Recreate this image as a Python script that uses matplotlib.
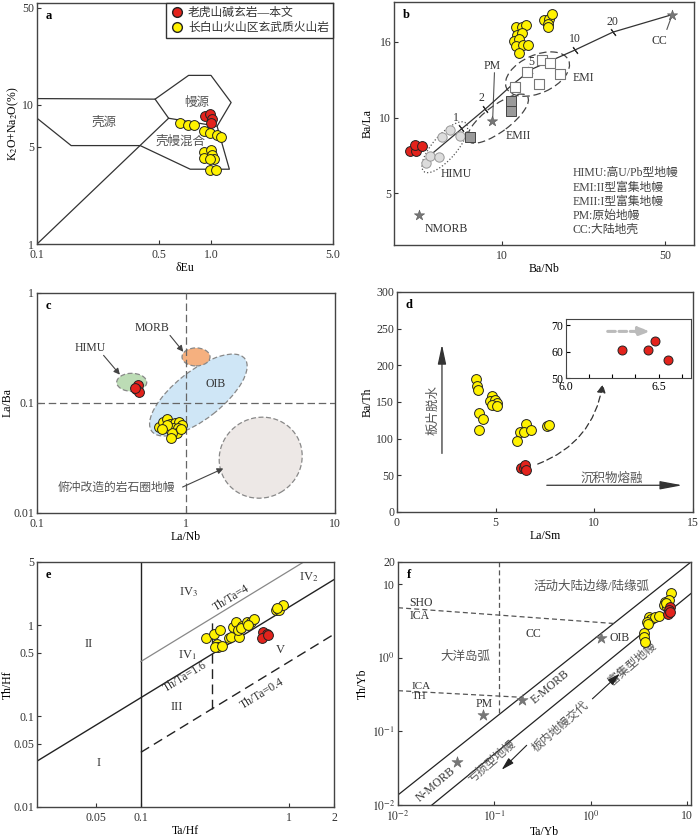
import numpy as np
import matplotlib
matplotlib.use('Agg')
import matplotlib.pyplot as plt
from matplotlib.patches import Ellipse, FancyArrowPatch
from matplotlib.transforms import ScaledTranslation
from matplotlib.lines import Line2D

plt.rcParams['font.family'] = ['Liberation Serif', 'Noto Sans CJK SC']
plt.rcParams['mathtext.fontset'] = 'stix'
plt.rcParams['font.size'] = 8.5
plt.rcParams['xtick.direction'] = 'in'
plt.rcParams['ytick.direction'] = 'in'

RED = '#e3231c'
YEL = '#fff200'
TXT = '#333333'

# ---- a: dEu vs K2O+Na2O ----
a_red_eu = [0.924, 0.978, 1.01, 0.99]
a_red_alk = [8.37, 8.57, 7.89, 7.46]
a_yel_eu = [0.658, 0.731, 0.791, 0.904, 0.986, 1.078, 1.137, 0.912, 0.996,
            0.912, 1.01, 1.03, 0.986, 0.978, 1.07]
a_yel_alk = [7.38, 7.22, 7.22, 6.53, 6.26, 6.11, 5.92, 4.61, 4.75,
             4.14, 4.37, 4.07, 4.07, 3.41, 3.41]
a_outline_x = [0.1, 0.476, 0.741, 0.996, 1.30, 1.08, 1.27, 0.757, 0.391, 0.157, 0.1]
a_outline_y = [11.1, 11.0, 16.3, 16.3, 10.4, 7.03, 3.45, 3.45, 5.10, 5.10, 8.02]
a_split_x = [0.476, 0.569, 1.08]
a_split_y = [11.0, 8.02, 7.03]
a_diag_x = [0.1, 0.569]
a_diag_y = [1.0, 8.02]

# ---- b: Ba/Nb vs Ba/La ----
b_red_x = [4.04, 4.29, 4.22, 4.55]
b_red_y = [7.35, 7.35, 7.79, 7.74]
b_yel_x = [11.5, 12.2, 12.7, 11.6, 12.2, 11.3, 11.8, 11.45, 12.3, 12.9, 11.8,
           15.1, 15.85, 16.4, 15.7, 15.7]
b_yel_y = [17.6, 17.6, 17.8, 16.7, 16.9, 16.1, 16.25, 15.6, 15.65, 15.65, 14.9,
           18.3, 18.5, 19.0, 17.9, 17.5]
b_himu_x = [4.74, 4.93, 5.37, 5.50, 5.97, 6.58]
b_himu_y = [6.61, 7.06, 6.96, 8.40, 8.94, 8.48]
b_emii_x = [7.31, 10.9, 10.96]
b_emii_y = [8.40, 11.1, 10.44]
b_emi_x = [11.4, 12.8, 14.4, 14.8, 16.0, 17.7]
b_emi_y = [12.1, 13.3, 12.3, 14.3, 14.05, 13.1]
b_star_x = [4.40, 9.10, 53.8]
b_star_y = [4.08, 9.73, 18.96]
b_curve_x = [4.90, 8.71, 10.96, 13.4, 20.5, 29.9, 53.8]
b_curve_y = [7.06, 10.7, 12.2, 13.5, 15.2, 17.0, 18.96]
b_mix_labels = ['1', '2', '5', '10', '20']
b_mix_x = [6.70, 8.43, 13.15, 20.5, 29.9]
b_mix_y = [9.1, 10.55, 13.4, 15.2, 17.0]
b_mixlab_x = [6.33, 8.20, 13.4, 20.5, 29.9]
b_mixlab_y = [10.0, 11.3, 14.1, 16.3, 18.1]
b_key = ['HIMU:高U/Pb型地幔', 'EMI:II型富集地幔', 'EMII:I型富集地幔',
         'PM:原始地幔', 'CC:大陆地壳']

# ---- c: La/Nb vs La/Ba ----
c_red_x = [0.474, 0.462, 0.486, 0.455]
c_red_y = [0.146, 0.133, 0.127, 0.136]
c_yel_x = [0.662, 0.704, 0.749, 0.781, 0.844, 0.902, 0.936, 0.761, 0.822,
           0.888, 0.866, 0.802, 0.789, 0.742, 0.687, 0.921]
c_yel_y = [0.0609, 0.0676, 0.0711, 0.0644, 0.0662, 0.0676, 0.0631, 0.0589,
           0.0589, 0.0589, 0.0531, 0.0531, 0.0478, 0.0631, 0.0577, 0.0577]

# ---- d: La/Sm vs Ba/Th ----
d_yel_x = [4.01, 4.05, 4.13, 4.80, 4.72, 4.97, 5.09, 4.80, 5.06, 4.18, 4.38,
           4.18, 6.54, 6.24, 6.44, 6.78, 6.10, 7.62, 7.70]
d_yel_y = [181.4, 171.4, 166.8, 157.7, 150.9, 153.2, 148.6, 146.4, 145.0,
           135.0, 126.8, 112.3, 120.0, 108.6, 108.6, 111.4, 97.3, 116.8, 118.6]
d_red_x = [6.30, 6.44, 6.48, 6.55]
d_red_y = [60.5, 60.5, 64.2, 57.0]

# ---- e: Ta/Hf vs Th/Hf ----
e_yel_x = [0.274, 0.313, 0.341, 0.324, 0.333, 0.316, 0.351, 0.395, 0.405,
           0.460, 0.416, 0.438, 0.478, 0.454, 0.471, 0.516, 0.550, 0.582,
           0.530, 0.813, 0.857, 0.912, 0.832]
e_yel_y = [0.722, 0.800, 0.885, 0.625, 0.583, 0.575, 0.594, 0.733, 0.752,
           0.752, 0.955, 1.084, 0.986, 0.891, 0.931, 1.101, 1.101, 1.18,
           1.01, 1.48, 1.48, 1.67, 1.55]
e_red_x = [0.668, 0.705, 0.652, 0.716]
e_red_y = [0.853, 0.805, 0.733, 0.791]

# ---- f: Ta/Yb vs Th/Yb ----
f_yel_x = [6.82, 5.96, 5.73, 6.20, 6.45, 4.0, 4.23, 4.69, 5.08, 3.85, 3.91,
           3.55, 3.60, 3.69, 6.10]
f_yel_y = [7.47, 5.75, 5.19, 4.92, 6.07, 3.60, 3.31, 3.60, 3.68, 3.08, 2.86,
           2.14, 1.89, 1.65, 5.58]
f_red_x = [6.71, 6.45, 6.30, 6.71]
f_red_y = [4.92, 4.40, 3.95, 4.17]
f_star_x = [0.0762, 0.194, 1.28, 0.0409]
f_star_y = [0.167, 0.266, 1.87, 0.0387]


def dots(ax, x, y, color, s=50, z=6):
    ax.scatter(x, y, s=s, c=color, edgecolors='#222222', linewidths=0.7, zorder=z)


def blob(fig, ax, x, y, w, h, ang, **kw):
    # ellipse sized in pixels, centred on a data point
    tr = fig.dpi_scale_trans + ScaledTranslation(x, y, ax.transData)
    ax.add_patch(Ellipse((0, 0), w / 100, h / 100, angle=ang, transform=tr, **kw))


def style(ax, letter):
    for s in ax.spines.values():
        s.set_color('#444444')
        s.set_linewidth(1.0)
    ax.tick_params(length=3, width=0.8, colors='#333333', labelsize=8.5, pad=2)
    ax.tick_params(axis='x', pad=3.5)
    ax.text(0.03, 0.97, letter, transform=ax.transAxes, fontweight='bold',
            fontsize=9, va='top', ha='left')


def panel_a(fig):
    ax = fig.add_axes([0.0529, 0.7081, 0.4229, 0.2883])
    ax.set_xscale('log')
    ax.set_yscale('log')
    ax.set_xlim(0.1, 5)
    ax.set_ylim(1, 54)
    for xs, ys in [(a_outline_x, a_outline_y), (a_split_x, a_split_y), (a_diag_x, a_diag_y)]:
        ax.plot(xs, ys, color='#333333', lw=0.9)
    ax.text(0.243, 7.5, '壳源', ha='center', va='center', color='#555555', fontsize=9)
    ax.text(0.828, 10.4, '幔源', ha='center', va='center', color='#555555', fontsize=9)
    ax.text(0.664, 5.45, '壳幔混合', ha='center', va='center', color='#555555', fontsize=9)
    dots(ax, a_yel_eu, a_yel_alk, YEL)
    dots(ax, a_red_eu, a_red_alk, RED)
    ax.minorticks_off()
    ax.set_xticks([0.1, 0.5, 1.0, 5.0], ['0.1', '0.5', '1.0', '5.0'])
    ax.set_yticks([1, 5, 10, 50], ['1', '5', '10', '50'])
    ax.set_xlabel('δEu', labelpad=1)
    ax.set_ylabel('K$_2$O+Na$_2$O(%)', labelpad=1)
    handles = [Line2D([], [], marker='o', ls='', mfc=RED, mec='#222222', ms=7,
                      label='老虎山碱玄岩—本文'),
               Line2D([], [], marker='o', ls='', mfc=YEL, mec='#222222', ms=7,
                      label='长白山火山区玄武质火山岩')]
    leg = ax.legend(handles=handles, loc='upper right', frameon=True, fancybox=False,
                    edgecolor='#333333', borderaxespad=0, handletextpad=0.3,
                    borderpad=0.35, labelspacing=0.25, fontsize=8.5, framealpha=1,
                    handlelength=1.2)
    for t in leg.get_texts():
        t.set_color(TXT)
    style(ax, 'a')


def b_fwd(v):
    v = np.maximum(np.asarray(v, dtype=float), 1e-6)
    return np.where(v <= 10, np.log2(v / 5), 1 + np.log(v / 10) / np.log(1.6))


def b_inv(t):
    t = np.asarray(t, dtype=float)
    return np.where(t <= 1, 5 * 2.0 ** t, 10 * 1.6 ** (t - 1))


def panel_b(fig):
    ax = fig.add_axes([0.5629, 0.7069, 0.4286, 0.2907])
    ax.set_xscale('log')
    ax.set_yscale('function', functions=(b_fwd, b_inv))
    ax.set_xlim(3.44, 66.7)
    ax.set_ylim(3.11, 20.5)
    blob(fig, ax, 5.68, 7.62, 64, 24, 49, fill=False, ec='#555555', ls=':', lw=0.9)
    blob(fig, ax, 9.6, 9.9, 74, 26, 37, fill=False, ec='#444444', ls=(0, (6, 3)), lw=0.9)
    blob(fig, ax, 14.2, 13.1, 68, 38, 24, fill=False, ec='#444444', ls=(0, (6, 3)), lw=0.9)
    ax.plot(b_curve_x, b_curve_y, color='#333333', lw=0.9, zorder=3)
    for xv, yv in zip(b_mix_x, b_mix_y):
        ax.plot(xv, yv, marker=(2, 2, 35), ms=6, mew=0.8, color='#333333', zorder=3)
    for lab, xv, yv in zip(b_mix_labels, b_mixlab_x, b_mixlab_y):
        ax.text(xv, yv, lab, ha='center', va='center', fontsize=8.5, color=TXT)
    ax.scatter(b_himu_x, b_himu_y, s=45, c='#dcdcdc', edgecolors='#999999', linewidths=0.7, zorder=4)
    ax.scatter(b_emii_x, b_emii_y, s=50, marker='s', c='#9a9a9a', edgecolors='#444444', linewidths=0.7, zorder=4)
    ax.scatter(b_emi_x, b_emi_y, s=50, marker='s', c='white', edgecolors='#777777', linewidths=0.8, zorder=4)
    ax.scatter(b_star_x, b_star_y, s=60, marker='*', c='#777777', edgecolors='#555555', linewidths=0.4, zorder=4)
    # PM and CC leaders
    ax.plot([9.28, 9.12], [13.2, 9.9], color='#555555', lw=0.8)
    ax.plot([51.0, 53.5], [17.3, 18.8], color='#555555', lw=0.8)
    ax.text(9.10, 13.8, 'PM', ha='center', va='center', color=TXT)
    ax.text(47.5, 16.1, 'CC', ha='center', va='center', color=TXT)
    ax.text(6.33, 5.97, 'HIMU', ha='center', va='center', color=TXT)
    ax.text(11.7, 8.48, 'EMII', ha='center', va='center', color=TXT)
    ax.text(22.3, 12.8, 'EMI', ha='center', va='center', color=TXT)
    ax.text(5.77, 3.61, 'NMORB', ha='center', va='center', color=TXT)
    dots(ax, b_yel_x, b_yel_y, YEL)
    dots(ax, b_red_x, b_red_y, RED)
    for i, line in enumerate(b_key):
        ax.text(0.595, 0.295 - i * 0.0585, line, transform=ax.transAxes, ha='left',
                va='center', fontsize=8.5, color='#444444')
    ax.minorticks_off()
    ax.set_xticks([10, 50], ['10', '50'])
    ax.set_yticks([5, 10, 16], ['5', '10', '16'])
    ax.set_xlabel('Ba/Nb', labelpad=1)
    ax.set_ylabel('Ba/La', labelpad=4)
    style(ax, 'b')


def panel_c(fig):
    ax = fig.add_axes([0.0529, 0.3864, 0.4257, 0.2632])
    ax.set_xscale('log')
    ax.set_yscale('log')
    ax.set_xlim(0.1, 10)
    ax.set_ylim(0.01, 1)
    ek = dict(ec='#888888', ls=(0, (4, 2)), lw=0.9)
    blob(fig, ax, 1.21, 0.118, 118, 48, 38, fc='#cfe6f6', zorder=1, **ek)
    blob(fig, ax, 0.432, 0.154, 30, 18, 0, fc='#bcdcb5', zorder=1, **ek)
    blob(fig, ax, 1.167, 0.262, 28, 18, 0, fc='#f5b07f', zorder=2, **ek)
    blob(fig, ax, 3.17, 0.0318, 84, 80, 30, fc='#ede8e6', zorder=1, **ek)
    ax.axvline(1, color='#666666', ls=(0, (6, 3)), lw=0.9, zorder=3)
    ax.axhline(0.1, color='#666666', ls=(0, (6, 3)), lw=0.9, zorder=3)
    ap = dict(arrowstyle='-|>', color='#444444', lw=0.8, mutation_scale=9)
    ax.annotate('', xy=(0.985, 0.279), xytext=(0.760, 0.430), arrowprops=ap)
    ax.annotate('', xy=(0.370, 0.173), xytext=(0.272, 0.283), arrowprops=ap)
    ax.annotate('', xy=(1.85, 0.026), xytext=(0.912, 0.0168), arrowprops=ap)
    ax.text(0.589, 0.484, 'MORB', ha='center', va='center', color=TXT)
    ax.text(0.227, 0.314, 'HIMU', ha='center', va='center', color=TXT)
    ax.text(1.57, 0.149, 'OIB', ha='center', va='center', color=TXT)
    ax.text(0.343, 0.0168, '俯冲改造的岩石圈地幔', ha='center', va='center',
            color='#555555', fontsize=8.5)
    dots(ax, c_yel_x, c_yel_y, YEL)
    dots(ax, c_red_x, c_red_y, RED)
    ax.minorticks_off()
    ax.set_xticks([0.1, 1, 10], ['0.1', '1', '10'])
    ax.set_yticks([0.01, 0.1, 1], ['0.01', '0.1', '1'])
    ax.set_xlabel('La/Nb', labelpad=1)
    ax.set_ylabel('La/Ba', labelpad=0)
    style(ax, 'c')


def panel_d(fig):
    ax = fig.add_axes([0.5671, 0.3876, 0.4229, 0.2632])
    ax.set_xlim(0, 15)
    ax.set_ylim(0, 300)
    ax.annotate('', xy=(2.28, 232), xytext=(2.28, 76),
                arrowprops=dict(arrowstyle='-|>,head_length=1.4,head_width=0.3',
                                color='#333333', lw=0.9))
    ax.annotate('', xy=(14.6, 36.4), xytext=(7.45, 36.4),
                arrowprops=dict(arrowstyle='-|>,head_length=1.6,head_width=0.3',
                                color='#333333', lw=0.9))
    ax.text(1.85, 139.5, '板片脱水', rotation=90, ha='center', va='center',
            color='#555555', fontsize=9)
    ax.text(10.87, 45.5, '沉积物熔融', ha='center', va='center', color='#555555', fontsize=9)
    ax.add_patch(FancyArrowPatch((7.0, 64), (10.45, 178), connectionstyle='arc3,rad=0.3',
                                 arrowstyle='-|>,head_length=5,head_width=2.5',
                                 color='#333333', lw=0.9, ls=(0, (5, 3)),
                                 mutation_scale=1))
    dots(ax, d_yel_x, d_yel_y, YEL)
    dots(ax, d_red_x, d_red_y, RED)
    ax.set_xticks([0, 5, 10, 15])
    ax.set_yticks(range(0, 301, 50))
    ax.set_xlabel('La/Sm', labelpad=1)
    ax.set_ylabel('Ba/Th', labelpad=2)
    style(ax, 'd')

    ins = fig.add_axes([0.8086, 0.5478, 0.1786, 0.0706])
    ins.set_xlim(6.0, 6.675)
    ins.set_ylim(50, 72.4)
    ins.annotate('', xy=(6.47, 67.7), xytext=(6.21, 67.7),
                 arrowprops=dict(arrowstyle='-|>,head_length=0.8,head_width=0.3',
                                 color='#bbbbbb', lw=2.2, ls=(0, (2.5, 1.2))))
    dots(ins, d_red_x, d_red_y, RED, s=42)
    ins.set_xticks([6.0, 6.125, 6.25, 6.375, 6.5, 6.625], ['6.0', '', '', '', '6.5', ''])
    ins.set_yticks([50, 60, 70])
    for s in ins.spines.values():
        s.set_color('#444444')
    ins.tick_params(length=3, width=0.8, labelsize=8.5, pad=2)


def panel_e(fig):
    ax = fig.add_axes([0.0529, 0.0347, 0.4243, 0.2931])
    ax.set_xscale('log')
    ax.set_yscale('log')
    ax.set_xlim(0.02, 2)
    ax.set_ylim(0.01, 5)
    xs = np.array([0.02, 2.0])
    ax.plot(xs, 1.6 * xs, color='#222222', lw=1.0)
    ax.plot([0.1, 0.1], [0.01, 5], color='#222222', lw=1.0)
    ax.plot([0.1, 1.25], [0.4, 5.0], color='#888888', lw=0.9)
    ax.plot([0.1, 2.0], [0.04, 0.8], color='#222222', lw=1.0, ls=(0, (7, 4)))
    ax.plot([0.30, 0.30], [0.12, 1.2], color='#222222', lw=1.0, ls=(0, (7, 4)))
    for lab, xv, yv in [('IV$_3$', 0.209, 2.35), ('IV$_2$', 1.36, 3.39),
                        ('II', 0.0443, 0.625), ('IV$_1$', 0.205, 0.473),
                        ('V', 0.865, 0.537), ('III', 0.175, 0.127), ('I', 0.0518, 0.0308)]:
        ax.text(xv, yv, lab, ha='center', va='center', color=TXT, fontsize=9)
    for lab, xv, yv in [('Th/Ta=4', 0.409, 1.99), ('Th/Ta=1.6', 0.199, 0.273),
                        ('Th/Ta=0.4', 0.653, 0.179)]:
        ax.text(xv, yv, lab, rotation=31.4, ha='center', va='center', color=TXT,
                fontsize=8.5, rotation_mode='anchor')
    dots(ax, e_yel_x, e_yel_y, YEL)
    dots(ax, e_red_x, e_red_y, RED)
    ax.minorticks_off()
    ax.set_xticks([0.05, 0.1, 1, 2], ['0.05', '0.1', '1', '2'])
    ax.set_yticks([0.01, 0.05, 0.1, 0.5, 1, 5], ['0.01', '0.05', '0.1', '0.5', '1', '5'])
    ax.set_xlabel('Ta/Hf', labelpad=1)
    ax.set_ylabel('Th/Hf', labelpad=0)
    style(ax, 'e')


def panel_f(fig):
    ax = fig.add_axes([0.5686, 0.0371, 0.4186, 0.2907])
    ax.set_xscale('log')
    ax.set_yscale('log')
    ax.set_xlim(0.01, 11.0)
    ax.set_ylim(0.01, 20)
    ax.plot([0.01, 11.0], [0.0137, 20], color='#222222', lw=0.9)
    ax.plot([0.0225, 11.0], [0.01, 7.47], color='#222222', lw=0.9)
    dk = dict(color='#555555', lw=0.9, ls=(0, (4, 2.5)))
    ax.plot([0.113, 0.113], [0.18, 20], **dk)
    ax.plot([0.01, 1.73], [4.78, 2.92], **dk)
    ax.plot([0.01, 0.194], [0.357, 0.290], **dk)
    ax.scatter(f_star_x, f_star_y, s=70, marker='*', c='#777777', edgecolors='#666666',
               linewidths=0.4, zorder=4)
    ax.text(1.03, 9.2, '活动大陆边缘/陆缘弧', ha='center', va='center', color='#555555', fontsize=9)
    ax.text(0.0132, 5.47, 'SHO', ha='left', va='center', color=TXT)
    ax.text(0.0132, 3.68, 'ICA', ha='left', va='center', color=TXT)
    ax.text(0.252, 2.10, 'CC', ha='center', va='center', color=TXT)
    ax.text(0.050, 1.03, '大洋岛弧', ha='center', va='center', color='#555555', fontsize=9)
    ax.text(0.0138, 0.41, 'ICA', ha='left', va='center', color=TXT, fontsize=8)
    ax.text(0.0140, 0.295, 'TH', ha='left', va='center', color=TXT, fontsize=8)
    ax.text(0.0776, 0.235, 'PM', ha='center', va='center', color=TXT)
    ax.text(1.55, 1.87, 'OIB', ha='left', va='center', color=TXT)
    ax.text(0.381, 0.404, 'E-MORB', rotation=40, ha='center', va='center', color=TXT)
    ax.text(0.0244, 0.0187, 'N-MORB', rotation=40, ha='center', va='center', color=TXT)
    ax.text(2.7, 0.82, '富集型地幔', rotation=41, ha='center', va='center', color='#555555')
    ax.text(0.484, 0.116, '板内地幔交代', rotation=41, ha='center', va='center', color='#555555')
    ax.text(0.0946, 0.0387, '亏损型地幔', rotation=41, ha='center', va='center', color='#555555')
    ap = dict(arrowstyle='-|>,head_length=0.9,head_width=0.25', color='#222222', lw=0.8)
    ax.annotate('', xy=(0.1135, 0.0283), xytext=(0.227, 0.0687), arrowprops=ap)
    ax.annotate('', xy=(2.11, 0.646), xytext=(0.992, 0.261), arrowprops=ap)
    dots(ax, f_yel_x, f_yel_y, YEL)
    dots(ax, f_red_x, f_red_y, RED)
    ax.minorticks_off()
    ax.set_xticks([0.01, 0.1, 1, 10], ['$10^{-2}$', '$10^{-1}$', '$10^{0}$', '10'])
    ax.set_yticks([0.01, 0.1, 1, 10, 20], ['$10^{-2}$', '$10^{-1}$', '$10^{0}$', '10', '20'])
    ax.set_xlabel('Ta/Yb', labelpad=1)
    ax.set_ylabel('Th/Yb', labelpad=2)
    style(ax, 'f')


def main():
    fig = plt.figure(figsize=(7.0, 8.36), dpi=100)
    panel_a(fig)
    panel_b(fig)
    panel_c(fig)
    panel_d(fig)
    panel_e(fig)
    panel_f(fig)
    fig.savefig('out.png', dpi=100, facecolor='white')


if __name__ == '__main__':
    main()
